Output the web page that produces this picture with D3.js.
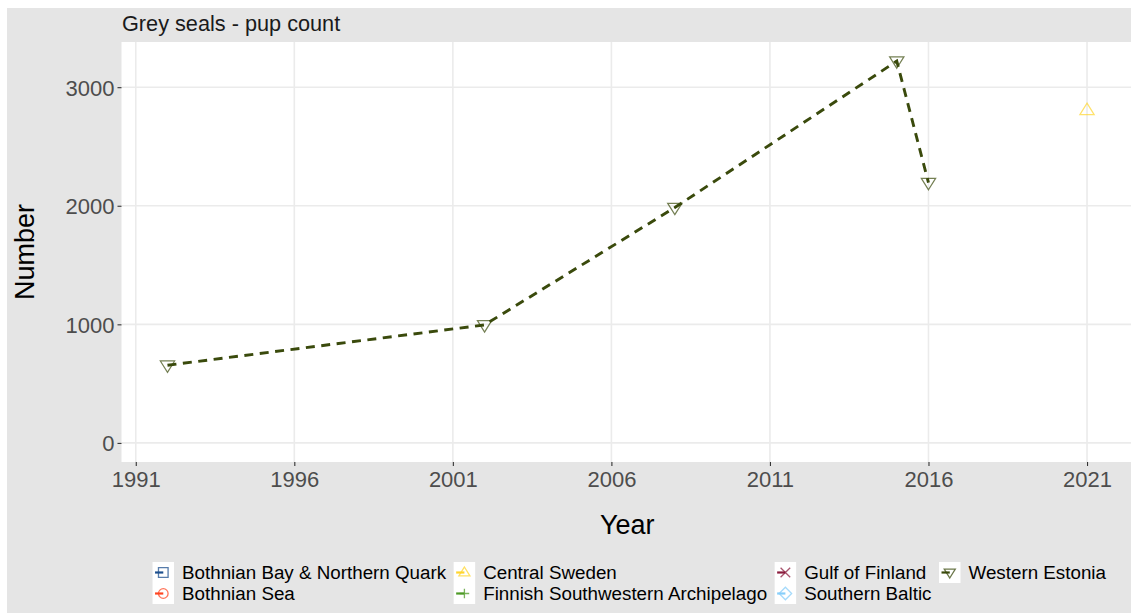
<!DOCTYPE html>
<html>
<head>
<meta charset="utf-8">
<script src="https://cdn.jsdelivr.net/npm/d3@7"></script>
<style>
  html, body { margin: 0; padding: 0; background: #ffffff; }
  svg { display: block; font-family: "Liberation Sans", Arial, sans-serif; }
</style>
</head>
<body>
<svg id="chart" width="1131" height="613"></svg>
<script>
// Grey seal pup counts by sub-area
const areas = [
  "Bothnian Bay & Northern Quark",
  "Bothnian Sea",
  "Central Sweden",
  "Finnish Southwestern Archipelago",
  "Gulf of Finland",
  "Southern Baltic",
  "Western Estonia"
];
const areaColors = ["#1d4f8e", "#ff4521", "#ffd52e", "#4d9a26", "#8b1c3d", "#87cefa", "#3a4a0c"];
const areaShapes = ["square", "circle", "triangleUp", "plus", "cross", "diamond", "triangleDown"];

const westernEstoniaYears = [1992, 2002, 2008, 2015, 2016];
const westernEstoniaPups  = [655, 995, 1985, 3220, 2195];
const centralSwedenYears  = [2021];
const centralSwedenPups   = [2805];

const xTicks = [1991, 1996, 2001, 2006, 2011, 2016, 2021];
const yTicks = [0, 1000, 2000, 3000];

const series = [
  { area: "Central Sweden", years: centralSwedenYears, values: centralSwedenPups },
  { area: "Western Estonia", years: westernEstoniaYears, values: westernEstoniaPups }
];

const svg = d3.select("#chart");
const W = 1131, H = 613;
const grey = "#e5e5e5";

// plot background and strip
svg.append("rect").attr("x", 7).attr("y", 8).attr("width", W - 7).attr("height", H - 8).attr("fill", grey);

const panel = { left: 121.5, right: 1133, top: 42, bottom: 462 };

// scales with ggplot-style 5% expansion
const allYears = series.flatMap(s => s.years);
const allVals = series.flatMap(s => s.values).concat([0]);
const xMin = d3.min(allYears), xMax = d3.max(allYears);
const yMin = d3.min(allVals), yMax = d3.max(allVals);
const xPad = (xMax - xMin) * 0.05, yPad = (yMax - yMin) * 0.05;
const x = d3.scaleLinear().domain([xMin - xPad, xMax + xPad]).range([panel.left, panel.right]);
const y = d3.scaleLinear().domain([yMin - yPad, yMax + yPad]).range([panel.bottom, panel.top]);

svg.append("defs").append("clipPath").attr("id", "panelClip")
  .append("rect").attr("x", panel.left).attr("y", panel.top)
  .attr("width", panel.right - panel.left).attr("height", panel.bottom - panel.top);

svg.append("rect").attr("x", panel.left).attr("y", panel.top)
  .attr("width", panel.right - panel.left).attr("height", panel.bottom - panel.top)
  .attr("fill", "#ffffff");

// grid
const grid = svg.append("g").attr("clip-path", "url(#panelClip)");
grid.selectAll("line.vx").data(xTicks).join("line")
  .attr("x1", d => x(d)).attr("x2", d => x(d)).attr("y1", panel.top).attr("y2", panel.bottom)
  .attr("stroke", "#ebebeb").attr("stroke-width", 1.6);
grid.selectAll("line.hy").data(yTicks).join("line")
  .attr("x1", panel.left).attr("x2", panel.right).attr("y1", d => y(d)).attr("y2", d => y(d))
  .attr("stroke", "#ebebeb").attr("stroke-width", 1.6);

// axes
const xAxis = svg.append("g").attr("transform", `translate(0,${panel.bottom})`)
  .call(d3.axisBottom(x).tickValues(xTicks).tickFormat(d3.format("d")).tickSize(4).tickPadding(4));
const yAxis = svg.append("g").attr("transform", `translate(${panel.left},0)`)
  .call(d3.axisLeft(y).tickValues(yTicks).tickFormat(d3.format("d")).tickSize(4).tickPadding(3));
[xAxis, yAxis].forEach(a => {
  a.select(".domain").remove();
  a.selectAll(".tick line").attr("stroke", "#333333").attr("stroke-width", 1.1);
  a.selectAll(".tick text").attr("fill", "#4d4d4d").style("font-size", "22px")
    .style("font-family", "'Liberation Sans', Arial, sans-serif");
});
xAxis.selectAll(".tick text").attr("dy", "0.78em");
yAxis.selectAll(".tick text").attr("dy", "0.36em");

// titles
svg.append("text").attr("x", 122).attr("y", 31).attr("font-size", 21.7).attr("fill", "#1a1a1a")
  .text("Grey seals - pup count");
svg.append("text").attr("x", (panel.left + panel.right) / 2).attr("y", 534)
  .attr("text-anchor", "middle").attr("font-size", 27).attr("fill", "#000")
  .text("Year");
svg.append("text").attr("transform", `translate(34,${(panel.top + panel.bottom) / 2}) rotate(-90)`)
  .attr("text-anchor", "middle").attr("font-size", 27).attr("fill", "#000")
  .text("Number");

// marker shapes
function shapePath(kind, r) {
  switch (kind) {
    case "square": return `M${-r},${-r}H${r}V${r}H${-r}Z`;
    case "circle": return `M${r},0A${r},${r} 0 1,1 ${-r},0A${r},${r} 0 1,1 ${r},0Z`;
    case "triangleUp": { const h = r * 1.15; return `M0,${-h}L${h},${h * 0.6}L${-h},${h * 0.6}Z`; }
    case "triangleDown": { const h = r * 1.15; return `M0,${h}L${h},${-h * 0.6}L${-h},${-h * 0.6}Z`; }
    case "plus": return `M${-r},0H${r}M0,${-r}V${r}`;
    case "cross": return `M${-r},${-r}L${r},${r}M${-r},${r}L${r},${-r}`;
    case "diamond": { const d = r * 1.3; return `M0,${-d}L${d},0L0,${d}L${-d},0Z`; }
  }
}

const colorOf = a => areaColors[areas.indexOf(a)];
const shapeOf = a => areaShapes[areas.indexOf(a)];

const marks = svg.append("g").attr("clip-path", "url(#panelClip)");
const line = d3.line().x(d => x(d[0])).y(d => y(d[1]));
series.forEach(s => {
  const pts = s.years.map((yr, i) => [yr, s.values[i]]);
  if (pts.length > 1) {
    marks.append("path").attr("d", line(pts)).attr("fill", "none")
      .attr("stroke", colorOf(s.area)).attr("stroke-width", 2.9)
      .attr("stroke-dasharray", "9,6.5");
  }
  marks.selectAll(null).data(pts).join("path")
    .attr("transform", d => `translate(${x(d[0])},${y(d[1])})`)
    .attr("d", shapePath(shapeOf(s.area), 6.2))
    .attr("fill", "none").attr("stroke", colorOf(s.area))
    .attr("stroke-opacity", 0.7).attr("stroke-width", 1.25);
});

// legend: 4 columns x 2 rows, filled column-wise
const legend = svg.append("g");
const keyW = 21.5, rowH = 21, textGap = 8, colGap = 7.5, legTop = 562, fs = 18.8;
const nRows = 2;
const cols = d3.range(Math.ceil(areas.length / nRows)).map(c => areas.slice(c * nRows, c * nRows + nRows));
const measurer = svg.append("text").attr("font-size", fs);
const colWidths = cols.map(c => keyW + textGap + d3.max(c, a => { measurer.text(a); return measurer.node().getComputedTextLength(); }));
measurer.remove();
const totalW = d3.sum(colWidths) + colGap * (cols.length - 1);
let cx = (panel.left + panel.right) / 2 + 2 - totalW / 2;
cols.forEach((c, ci) => {
  const g = legend.append("g").attr("transform", `translate(${cx},${legTop})`);
  g.append("rect").attr("x", 0).attr("y", 0).attr("width", keyW).attr("height", rowH * c.length).attr("fill", "#ffffff");
  c.forEach((a, ri) => {
    const cy = ri * rowH + rowH / 2;
    const col = colorOf(a);
    g.append("line").attr("x1", 2.5).attr("x2", keyW / 2).attr("y1", cy).attr("y2", cy)
      .attr("stroke", col).attr("stroke-width", 2.2);
    g.append("path").attr("transform", `translate(${keyW / 2},${cy})`)
      .attr("d", shapePath(shapeOf(a), 4.8)).attr("fill", "none")
      .attr("stroke", col).attr("stroke-opacity", 0.75).attr("stroke-width", 1.3);
    g.append("text").attr("x", keyW + textGap).attr("y", cy).attr("dy", "0.35em")
      .attr("font-size", fs).attr("fill", "#000").text(a);
  });
  cx += colWidths[ci] + colGap;
});
</script>
</body>
</html>
